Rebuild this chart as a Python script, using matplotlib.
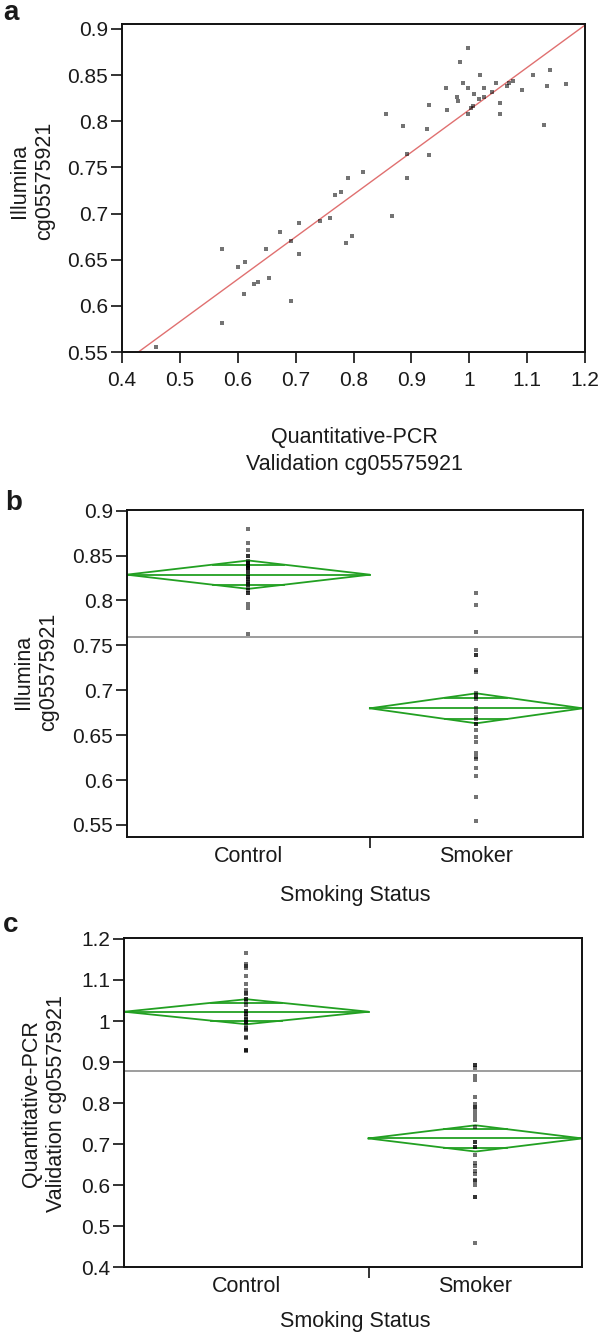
import matplotlib
matplotlib.use('Agg')
import matplotlib.pyplot as plt
from matplotlib.ticker import FuncFormatter

plt.rcParams['font.family'] = ['Liberation Sans', 'DejaVu Sans']

# ---------------- data ----------------
qpcr = [0.458, 0.572, 0.572, 0.600, 0.613, 0.610, 0.628, 0.635, 0.648, 0.654,
        0.673, 0.692, 0.692, 0.705, 0.705, 0.742, 0.759, 0.768, 0.778, 0.790,
        0.787, 0.797, 0.816, 0.857, 0.866, 0.885, 0.892, 0.892,
        0.927, 0.930, 0.930, 0.959, 0.961, 0.978, 0.980, 0.984, 0.990, 0.997,
        0.997, 0.997, 1.003, 1.006, 1.009, 1.016, 1.018, 1.025, 1.025, 1.040,
        1.047, 1.053, 1.053, 1.066, 1.069, 1.075, 1.091, 1.110, 1.129, 1.135,
        1.139, 1.167]
illumina = [0.555, 0.581, 0.662, 0.642, 0.648, 0.613, 0.624, 0.626, 0.662, 0.630,
            0.680, 0.605, 0.670, 0.690, 0.656, 0.692, 0.695, 0.720, 0.723, 0.739,
            0.668, 0.676, 0.745, 0.808, 0.697, 0.795, 0.765, 0.739,
            0.792, 0.763, 0.818, 0.836, 0.812, 0.826, 0.822, 0.864, 0.842, 0.879,
            0.836, 0.808, 0.814, 0.817, 0.830, 0.824, 0.850, 0.836, 0.826, 0.832,
            0.842, 0.820, 0.808, 0.838, 0.842, 0.844, 0.834, 0.850, 0.796, 0.838,
            0.856, 0.840]
status = ['Smoker'] * 28 + ['Control'] * 32

categories = ['Control', 'Smoker']
illumina_means = [0.8287, 0.6799]
illumina_ci = [0.0158, 0.0167]
illumina_grand = 0.759
qpcr_means = [1.0227, 0.714]
qpcr_ci = [0.0305, 0.032]
qpcr_grand = 0.8773
fit_intercept = 0.3534
fit_slope = 0.459

a_xticks = [0.4, 0.5, 0.6, 0.7, 0.8, 0.9, 1.0, 1.1, 1.2]
a_yticks = [0.55, 0.6, 0.65, 0.7, 0.75, 0.8, 0.85, 0.9]
b_yticks = [0.55, 0.6, 0.65, 0.7, 0.75, 0.8, 0.85, 0.9]
c_yticks = [0.4, 0.5, 0.6, 0.7, 0.8, 0.9, 1.0, 1.1, 1.2]

# ---------------- styling ----------------
W, H = 600, 1334
TXT = '#1a1a1a'
PT_COLOR = (0, 0, 0, 0.55)
GREEN = '#22a022'
FS = 15.5
TFS = 15
PT_SIZE = 8

fig = plt.figure(figsize=(W / 100, H / 100), dpi=100)


def ax_rect(left, right, top, bottom):
    return [left / W, 1 - bottom / H, (right - left) / W, (bottom - top) / H]


fmt = FuncFormatter(lambda v, p: '%g' % round(v, 3))


def style_axes(ax):
    for s in ax.spines.values():
        s.set_linewidth(1.4)
        s.set_color('#111111')
    ax.tick_params(which='major', direction='out', length=8, width=1.2,
                   color='#111111', labelsize=TFS, labelcolor=TXT)
    ax.tick_params(axis='y', pad=2)
    ax.tick_params(axis='x', pad=6)
    ax.yaxis.set_major_formatter(fmt)


# ---------------- panel a ----------------
axa = fig.add_axes(ax_rect(122, 585, 24, 352))
style_axes(axa)
axa.set_xlim(0.4, 1.2)
axa.set_ylim(0.55, 0.9054)
axa.set_xticks(a_xticks)
axa.set_yticks(a_yticks)
axa.xaxis.set_major_formatter(fmt)
axa.axline((0, fit_intercept), slope=fit_slope, color='#e07070', lw=1.0, zorder=2)
axa.scatter(qpcr, illumina, s=PT_SIZE, marker='s', color=PT_COLOR, lw=0, zorder=3)

fig.text(354 / W, 1 - 451 / H, 'Quantitative-PCR\nValidation cg05575921',
         ha='center', va='center', fontsize=FS, color=TXT, linespacing=1.35)
fig.text(32 / W, 1 - 181 / H, 'Illumina\ncg05575921', rotation=90,
         ha='center', va='center', fontsize=FS, color=TXT, linespacing=1.25)
fig.text(3 / W, 1 - 20 / H, 'a', fontsize=20, fontweight='bold', color=TXT,
         ha='left', va='baseline')


# ---------------- oneway panels ----------------
def oneway(ax, values, means, cis, grand, ylim, yticks):
    style_axes(ax)
    counts = [status.count(c) for c in categories]
    edges = [0]
    for n in counts:
        edges.append(edges[-1] + n)
    ax.set_xlim(0, edges[-1])
    ax.set_ylim(*ylim)
    ax.set_yticks(yticks)
    ax.axhline(grand, color='#8c8c8c', lw=1.2, zorder=1)
    centers = []
    for i, cat in enumerate(categories):
        x0, x1 = edges[i], edges[i + 1]
        xc = (x0 + x1) / 2
        centers.append(xc)
        m, ci = means[i], cis[i]
        ax.plot([x0, xc, x1, xc, x0], [m, m + ci, m, m - ci, m],
                color=GREEN, lw=1.3, zorder=2)
        ax.plot([x0, x1], [m, m], color=GREEN, lw=1.3, zorder=2)
        half = (x1 - x0) / 2 * (1 - 2 ** -0.5)
        for sgn in (1, -1):
            ax.plot([xc - half, xc + half], [m + sgn * ci * 2 ** -0.5] * 2,
                    color=GREEN, lw=1.3, zorder=2)
        ys = [v for v, s in zip(values, status) if s == cat]
        ax.scatter([xc] * len(ys), ys, s=PT_SIZE, marker='s', color=PT_COLOR,
                   lw=0, zorder=3)
    ax.set_xticks(edges[1:-1])
    ax.set_xticklabels([''] * (len(edges) - 2))
    ax.set_xticks(centers, categories, minor=True)
    ax.tick_params(axis='x', which='minor', length=0, pad=6,
                   labelsize=FS, labelcolor=TXT)


axb = fig.add_axes(ax_rect(126.7, 582.7, 510, 837.3))
oneway(axb, illumina, illumina_means, illumina_ci, illumina_grand,
       (0.5363, 0.9007), b_yticks)
fig.text(355 / W, 1 - 895 / H, 'Smoking Status', ha='center', va='center',
         fontsize=FS, color=TXT)
fig.text(36 / W, 1 - 672 / H, 'Illumina\ncg05575921', rotation=90,
         ha='center', va='center', fontsize=FS, color=TXT, linespacing=1.3)
fig.text(5 / W, 1 - 510 / H, 'b', fontsize=20, fontweight='bold', color=TXT,
         ha='left', va='baseline')

axc = fig.add_axes(ax_rect(124.3, 582.3, 938.3, 1267.3))
oneway(axc, qpcr, qpcr_means, qpcr_ci, qpcr_grand, (0.4, 1.2016), c_yticks)
fig.text(355 / W, 1 - 1321 / H, 'Smoking Status', ha='center', va='center',
         fontsize=FS, color=TXT)
fig.text(44 / W, 1 - 1104 / H, 'Quantitative-PCR\nValidation cg05575921',
         rotation=90, ha='center', va='center', fontsize=FS, color=TXT,
         linespacing=1.3)
fig.text(3 / W, 1 - 932 / H, 'c', fontsize=20, fontweight='bold', color=TXT,
         ha='left', va='baseline')

fig.savefig('out.png', dpi=100, facecolor='white')
